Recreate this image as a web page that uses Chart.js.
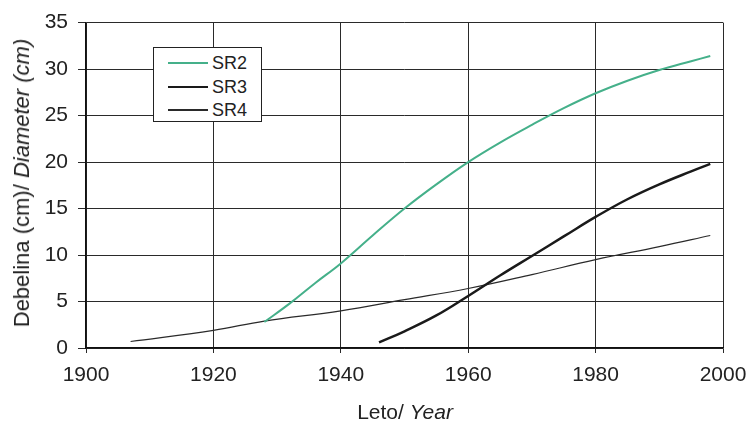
<!DOCTYPE html>
<html>
<head>
<meta charset="utf-8">
<script src="https://cdn.jsdelivr.net/npm/chart.js@4"></script>
<style>
  html, body { margin: 0; padding: 0; background: #fff; }
  #wrap { position: relative; width: 749px; height: 425px; font-family: "Liberation Sans", Arial, sans-serif; color: #222; }
  #chart { position: absolute; left: 0; top: 0; }
  #ytitle { position: absolute; left: 22px; top: 183px; transform: translate(-50%, -50%) rotate(-90deg); white-space: nowrap; font-size: 22px; }
  #xtitle { position: absolute; left: 405px; top: 412px; transform: translate(-50%, -50%); white-space: nowrap; font-size: 21px; }
  #legend { position: absolute; left: 153px; top: 47px; width: 107px; height: 73px; border: 1px solid #222; background: #fff; }
  .row { position: absolute; left: 0; height: 20px; }
  .row .ln { position: absolute; left: 14px; width: 40px; top: 9px; }
  .row .tx { position: absolute; left: 58px; top: 0; font-size: 18px; line-height: 20px; }
</style>
</head>
<body>
<div id="wrap">
  <canvas id="chart" width="749" height="425"></canvas>
  <div id="ytitle">Debelina (cm)/ <i>Diameter (cm)</i></div>
  <div id="xtitle">Leto/ <i>Year</i></div>
  <div id="legend"></div>
</div>
<script>
// values
var sr2Years = [1928, 1932, 1936, 1940, 1945, 1950, 1955, 1960, 1965, 1970, 1975, 1980, 1985, 1990, 1995, 1998];
var sr2Values = [2.8, 4.8, 7.0, 9.1, 12.1, 15.0, 17.6, 20.0, 22.1, 24.0, 25.8, 27.4, 28.75, 29.9, 30.85, 31.4];

var sr3Years = [1946, 1950, 1955, 1960, 1965, 1970, 1975, 1980, 1985, 1990, 1995, 1998];
var sr3Values = [0.6, 1.8, 3.5, 5.6, 7.8, 9.9, 12.0, 14.1, 16.0, 17.6, 19.0, 19.8];

var sr4Years = [1907, 1920, 1928, 1940, 1950, 1960, 1970, 1980, 1990, 1998];
var sr4Values = [0.7, 1.9, 2.9, 4.0, 5.2, 6.4, 7.9, 9.5, 10.9, 12.1];

var xTicks = [1900, 1920, 1940, 1960, 1980, 2000];
var yTicks = [0, 5, 10, 15, 20, 25, 30, 35];

var seriesNames = ['SR2', 'SR3', 'SR4'];
var seriesColors = ['#45b08a', '#1a1a1a', '#2a2a2a'];
var seriesWidths = [2, 2.5, 1.2];

function toPoints(xs, ys) {
    return xs.map(function(x, i) { return { x: x, y: ys[i] }; });
}

var allData = [toPoints(sr2Years, sr2Values), toPoints(sr3Years, sr3Values), toPoints(sr4Years, sr4Values)];

var datasets = allData.map(function(pts, i) {
    return {
        label: seriesNames[i],
        data: pts,
        borderColor: seriesColors[i],
        borderWidth: seriesWidths[i],
        pointRadius: 0,
        fill: false,
        tension: 0.4
    };
});

// html legend box
var legend = document.getElementById('legend');
seriesNames.forEach(function(name, i) {
    var row = document.createElement('div');
    row.className = 'row';
    row.style.top = (5 + i * 23.5) + 'px';
    row.style.width = '100%';
    row.innerHTML = '<div class="ln" style="height:2px;background:' + seriesColors[i] + '"></div><div class="tx">' + name + '</div>';
    legend.appendChild(row);
});

var tickFont = { family: '"Liberation Sans", Arial, sans-serif', size: 21 };

var ctx = document.getElementById('chart').getContext('2d');
var chart = new Chart(ctx, {
    type: 'line',
    data: { datasets: datasets },
    options: {
        responsive: false,
        animation: false,
        layout: { padding: { top: 21, right: 26, bottom: 0, left: 0 } },
        plugins: { legend: { display: false }, tooltip: { enabled: false } },
        scales: {
            x: {
                type: 'linear',
                min: 1900,
                max: 2000,
                afterBuildTicks: function(scale) { scale.ticks = xTicks.map(function(v) { return { value: v }; }); },
                afterFit: function(scale) { scale.height = 77; scale.paddingRight = 0; scale.paddingLeft = 0; },
                ticks: { color: '#222', font: tickFont, padding: 10, maxRotation: 0, callback: function(v) { return String(v); } },
                grid: { color: '#2a2a2a', lineWidth: 1, tickLength: 5 },
                border: { color: '#111', width: 1.5 }
            },
            y: {
                type: 'linear',
                min: 0,
                max: 35,
                afterBuildTicks: function(scale) { scale.ticks = yTicks.map(function(v) { return { value: v }; }); },
                afterFit: function(scale) { scale.width = 86; },
                ticks: { color: '#222', font: tickFont, padding: 10, callback: function(v) { return String(v); } },
                grid: { color: '#2a2a2a', lineWidth: 1, tickLength: 8 },
                border: { color: '#111', width: 1.5 }
            }
        }
    }
});
</script>
</body>
</html>
